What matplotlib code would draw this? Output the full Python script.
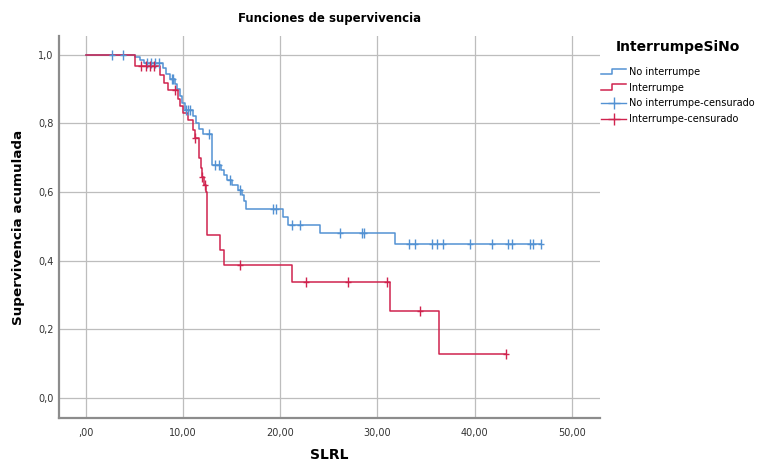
import numpy as np
import matplotlib
matplotlib.use("Agg")
import matplotlib.pyplot as plt
from matplotlib.lines import Line2D
from matplotlib.legend_handler import HandlerBase

# Kaplan-Meier steps: (time, survival after the event)
noint_times = [5.0, 5.5, 6.0, 7.9, 8.2, 8.6, 9.2, 9.4, 9.7, 9.9, 10.2, 11.0, 11.3, 11.6,
               12.0, 13.0, 13.9, 14.2, 14.5, 15.0, 15.6, 16.0, 16.3, 16.5, 20.3, 20.8,
               24.1, 31.8]
noint_surv = [0.993, 0.985, 0.975, 0.96, 0.945, 0.93, 0.915, 0.90, 0.88, 0.86, 0.84, 0.82,
              0.80, 0.785, 0.77, 0.68, 0.665, 0.65, 0.635, 0.62, 0.605, 0.59, 0.575, 0.552,
              0.528, 0.505, 0.48, 0.448]
noint_cens = [2.7, 3.8, 6.3, 6.7, 7.1, 7.5, 8.8, 8.9, 10.3, 10.5, 10.7, 12.7, 13.3, 13.7,
              14.8, 15.8, 19.2, 19.6, 21.2, 22.0, 26.1, 28.4, 28.6, 33.3, 33.9, 35.6, 36.1,
              36.8, 39.5, 41.8, 43.4, 43.9, 45.7, 46.0, 46.8]

int_times = [5.0, 7.6, 8.0, 8.4, 9.5, 9.7, 10.0, 10.5, 11.0, 11.2, 11.6, 11.8, 11.9, 12.1,
             12.3, 12.4, 13.8, 14.2, 21.2, 31.3, 36.3]
int_surv = [0.967, 0.94, 0.917, 0.897, 0.87, 0.85, 0.83, 0.81, 0.78, 0.757, 0.70, 0.67,
            0.645, 0.62, 0.60, 0.474, 0.431, 0.387, 0.338, 0.253, 0.128]
int_cens = [5.6, 6.2, 6.6, 7.0, 9.2, 11.25, 11.95, 12.2, 15.8, 22.6, 27.0, 31.0, 34.4, 43.2]

xticks = [0, 10, 20, 30, 40, 50]
xtick_labels = [",00", "10,00", "20,00", "30,00", "40,00", "50,00"]
yticks = [0.0, 0.2, 0.4, 0.6, 0.8, 1.0]
ytick_labels = ["0,0", "0,2", "0,4", "0,6", "0,8", "1,0"]

blue = "#5392d3"
red = "#d0234e"


def km_curve(times, surv, cens):
    t = np.concatenate([[0.0], times, [max(cens)]])
    s = np.concatenate([[1.0], surv, [surv[-1]]])
    cens = np.array(cens)
    idx = np.searchsorted(times, cens, side="right")
    cy = np.concatenate([[1.0], surv])[idx]
    return t, s, cens, cy


class StepHandler(HandlerBase):
    def create_artists(self, legend, orig_handle, xd, yd, width, height, fontsize, trans):
        xs = [xd, xd + width * 0.45, xd + width * 0.45, xd + width]
        ys = [yd + height * 0.1, yd + height * 0.1, yd + height * 0.9, yd + height * 0.9]
        line = Line2D(xs, ys, color=orig_handle.get_color(), lw=1.1, transform=trans)
        return [line]


fig = plt.figure(figsize=(7.66, 4.63), dpi=100)
ax = fig.add_axes([0.077, 0.097, 0.706, 0.825])

for times, surv, cens, col in [(noint_times, noint_surv, noint_cens, blue),
                               (int_times, int_surv, int_cens, red)]:
    t, s, cx, cy = km_curve(times, surv, cens)
    ax.step(t, s, where="post", color=col, lw=1.1, zorder=3)
    ax.plot(cx, cy, ls="none", marker="|", ms=7, mew=1.0, color=col, zorder=4)
    ax.plot(cx, cy, ls="none", marker="_", ms=5, mew=1.0, color=col, zorder=4)

ax.set_xlim(-2.8, 52.9)
ax.set_ylim(-0.058, 1.054)
ax.set_xticks(xticks)
ax.set_xticklabels(xtick_labels)
ax.set_yticks(yticks)
ax.set_yticklabels(ytick_labels)
ax.tick_params(length=0, labelsize=7, colors="#333333")
ax.tick_params(axis="x", pad=7)
ax.tick_params(axis="y", pad=4)
ax.grid(True, color="#bdbdbd", lw=0.9)
ax.set_axisbelow(True)
for side in ["top", "right"]:
    ax.spines[side].set_visible(False)
for side in ["left", "bottom"]:
    ax.spines[side].set_color("#8c8c8c")
    ax.spines[side].set_linewidth(1.6)

ax.set_title("Funciones de supervivencia", fontsize=8.5, fontweight="bold", pad=10)
ax.set_xlabel("SLRL", fontsize=10, fontweight="bold", labelpad=7)
ax.set_ylabel("Supervivencia acumulada", fontsize=9.7, fontweight="bold", labelpad=9)

handles = [Line2D([], [], color=blue), Line2D([], [], color=red),
           Line2D([], [], color=blue, marker="+", ms=9, lw=1),
           Line2D([], [], color=red, marker="+", ms=9, lw=1)]
labels = ["No interrumpe", "Interrumpe", "No interrumpe-censurado", "Interrumpe-censurado"]
leg = fig.legend(handles, labels, loc="upper left", bbox_to_anchor=(0.773, 0.932),
                 frameon=False, fontsize=7, title="InterrumpeSiNo",
                 title_fontproperties={"weight": "bold", "size": 10},
                 handlelength=2.6, handletextpad=0.25, labelspacing=0.6,
                 handler_map={handles[0]: StepHandler(), handles[1]: StepHandler()})
leg._legend_box.sep = 9

fig.savefig("out.png", dpi=100)
